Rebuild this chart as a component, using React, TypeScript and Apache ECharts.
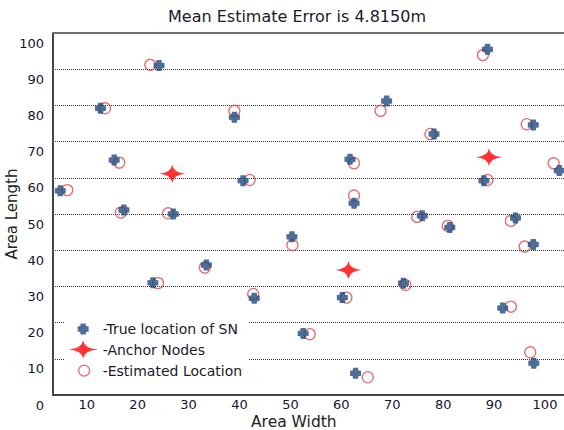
import * as echarts from 'echarts';
import { useEffect, useRef } from 'react';

// True sensor-node locations
const trueX = [24.2, 12.7, 15.4, 4.8, 17.3, 27.0, 39.0, 61.7, 40.7, 62.5, 88.7, 68.9, 78.2, 97.7, 88.0, 102.8, 75.9, 81.3, 94.2, 97.7, 72.2, 91.7, 97.8, 50.3, 33.5, 42.9, 60.2, 52.5, 62.8, 23.0];
const trueY = [91.0, 79.2, 64.9, 56.4, 51.1, 50.0, 76.7, 65.1, 59.2, 53.0, 95.5, 81.2, 72.1, 74.6, 59.2, 62.0, 49.5, 46.3, 48.9, 41.6, 30.9, 24.0, 8.8, 43.7, 35.9, 26.7, 26.9, 17.0, 6.0, 31.0];
// Estimated locations
const estX = [22.5, 13.6, 16.4, 6.2, 16.7, 26.0, 39.0, 62.5, 42.0, 62.5, 87.8, 67.7, 77.5, 96.4, 88.7, 101.7, 74.9, 80.9, 93.3, 96.0, 72.6, 93.3, 97.1, 50.4, 33.2, 42.7, 61.0, 53.8, 65.2, 24.0];
const estY = [91.2, 79.2, 64.2, 56.6, 50.4, 50.2, 78.5, 64.0, 59.4, 55.1, 93.9, 78.5, 72.1, 74.8, 59.4, 64.0, 49.2, 46.7, 48.1, 41.0, 30.4, 24.4, 11.8, 41.4, 35.2, 27.9, 26.9, 16.8, 4.9, 30.9];
// Anchor nodes
const anchorX = [26.8, 61.4, 89.0];
const anchorY = [61.1, 34.5, 65.7];
// Tick labels
const xTicks = [10, 20, 30, 40, 50, 60, 70, 80, 90, 100];

const TITLE = 'Mean Estimate Error is 4.8150m';
const NAME_TRUE = '-True location of SN';
const NAME_ANCHOR = '-Anchor Nodes';
const NAME_EST = '-Estimated Location';

const BLUE = '#1f4a80';
const RED = '#ff0000';
const CIRCLE_RED = '#e04848';
const FONT = 'DejaVu Sans';

const crossShape = 'M-2.5,-5.5 L2.5,-5.5 L2.9,-2.9 L5.5,-2.5 L5.5,2.5 L2.9,2.9 L2.5,5.5 L-2.5,5.5 L-2.9,2.9 L-5.5,2.5 L-5.5,-2.5 L-2.9,-2.9 Z';
const crossPath = 'path://' + crossShape;
const starPath = 'path://M0,-9 Q1.1,-1.1 13,0 Q1.1,1.1 0,9 Q-1.1,1.1 -13,0 Q-1.1,-1.1 0,-9 Z';
// legend icons (padded to the 29x18 legend item box)
const crossIcon = 'path://M-14.5,-9 M14.5,9 ' + crossShape;
const starIcon = 'path://M0,-8.5 Q1.2,-1.1 14.5,0 Q1.2,1.1 0,8.5 Q-1.2,1.1 -14.5,0 Q-1.2,-1.1 0,-8.5 Z';
const circleIcon = 'path://M-14.5,-9 M14.5,9 M-4.5,0 A5.5,5.5 0 1,1 6.5,0 A5.5,5.5 0 1,1 -4.5,0 Z';

const pairs = (xs: number[], ys: number[]) => xs.map((x, i) => [x, ys[i]]);

export default function App() {
  const ref = useRef<HTMLDivElement>(null);
  useEffect(() => {
    const chart = echarts.init(ref.current!, null, { renderer: 'svg' });
    chart.setOption({
      animation: false,
      backgroundColor: '#fff',
      textStyle: { fontFamily: FONT },
      title: [
        {
          text: TITLE,
          left: 168,
          top: 7,
          padding: 0,
          textStyle: { fontFamily: FONT, fontSize: 16, fontWeight: 'normal', color: '#1a1a2a', lineHeight: 19 },
        },
        {
          text: 'Area Width',
          left: 251,
          top: 412,
          padding: 0,
          textStyle: { fontFamily: FONT, fontSize: 15.5, fontWeight: 'normal', color: '#222', lineHeight: 19 },
        },
      ],
      grid: { left: 53, top: 33, right: 0, bottom: 35, containLabel: false, outerBoundsMode: 'none' },
      legend: {
        orient: 'vertical',
        left: 65,
        top: 314,
        padding: [6, 6, 8, 3],
        backgroundColor: '#fff',
        itemWidth: 29,
        itemHeight: 18,
        itemGap: 2.5,
        symbolKeepAspect: false,
        selectedMode: false,
        textStyle: { fontFamily: FONT, fontSize: 14, color: '#1a1a2a', lineHeight: 18 },
        data: [
          { name: NAME_TRUE, icon: crossIcon, itemStyle: { color: BLUE, borderWidth: 0 } },
          { name: NAME_ANCHOR, icon: starIcon, itemStyle: { color: RED, borderWidth: 0 } },
          { name: NAME_EST, icon: circleIcon, itemStyle: { color: 'rgba(0,0,0,0)', borderColor: CIRCLE_RED, borderWidth: 1.3 } },
        ],
      },
      xAxis: [
        {
          type: 'value',
          min: 3.38,
          max: 103.73,
          position: 'bottom',
          axisLine: { show: true, onZero: false, lineStyle: { color: '#444', width: 2 } },
          axisTick: { show: false },
          splitLine: { show: false },
          axisLabel: {
            customValues: xTicks,
            margin: 3,
            fontFamily: FONT,
            fontSize: 13,
            color: '#15152f',
          },
        },
        {
          type: 'value',
          min: 3.38,
          max: 103.73,
          position: 'top',
          axisLine: { show: true, onZero: false, lineStyle: { color: '#6f6f6f', width: 2 } },
          axisTick: { show: false },
          splitLine: { show: false },
          axisLabel: { show: false },
        },
      ],
      yAxis: {
        type: 'value',
        min: 0,
        max: 100,
        interval: 10,
        name: 'Area Length',
        nameLocation: 'middle',
        nameGap: 34,
        nameMoveOverlap: false,
        nameTextStyle: { fontFamily: FONT, fontSize: 15, color: '#222' },
        axisLine: { show: true, onZero: false, lineStyle: { color: '#444', width: 2 } },
        axisTick: { show: false },
        splitLine: { show: true, lineStyle: { type: 'dotted', color: '#333', width: 1 } },
        axisLabel: {
          margin: 9,
          fontFamily: FONT,
          fontSize: 13,
          color: '#15152f',
          verticalAlign: 'top',
          lineHeight: 20,
        },
      },
      series: [
        {
          name: NAME_EST,
          type: 'scatter',
          clip: false,
          symbol: 'circle',
          symbolSize: 11,
          itemStyle: { color: 'rgba(0,0,0,0)', borderColor: CIRCLE_RED, borderWidth: 1.3 },
          data: pairs(estX, estY),
        },
        {
          name: NAME_TRUE,
          type: 'scatter',
          clip: false,
          symbol: crossPath,
          symbolSize: 11,
          itemStyle: { color: BLUE },
          data: pairs(trueX, trueY),
        },
        {
          name: NAME_ANCHOR,
          type: 'scatter',
          clip: false,
          symbol: starPath,
          symbolSize: [26, 18],
          itemStyle: { color: RED },
          data: pairs(anchorX, anchorY),
        },
      ],
    });
    return () => chart.dispose();
  }, []);
  return (
    <div
      ref={ref}
      style={{ position: 'fixed', left: 0, top: 0, width: 564, height: 430, background: '#fff' }}
    />
  );
}
